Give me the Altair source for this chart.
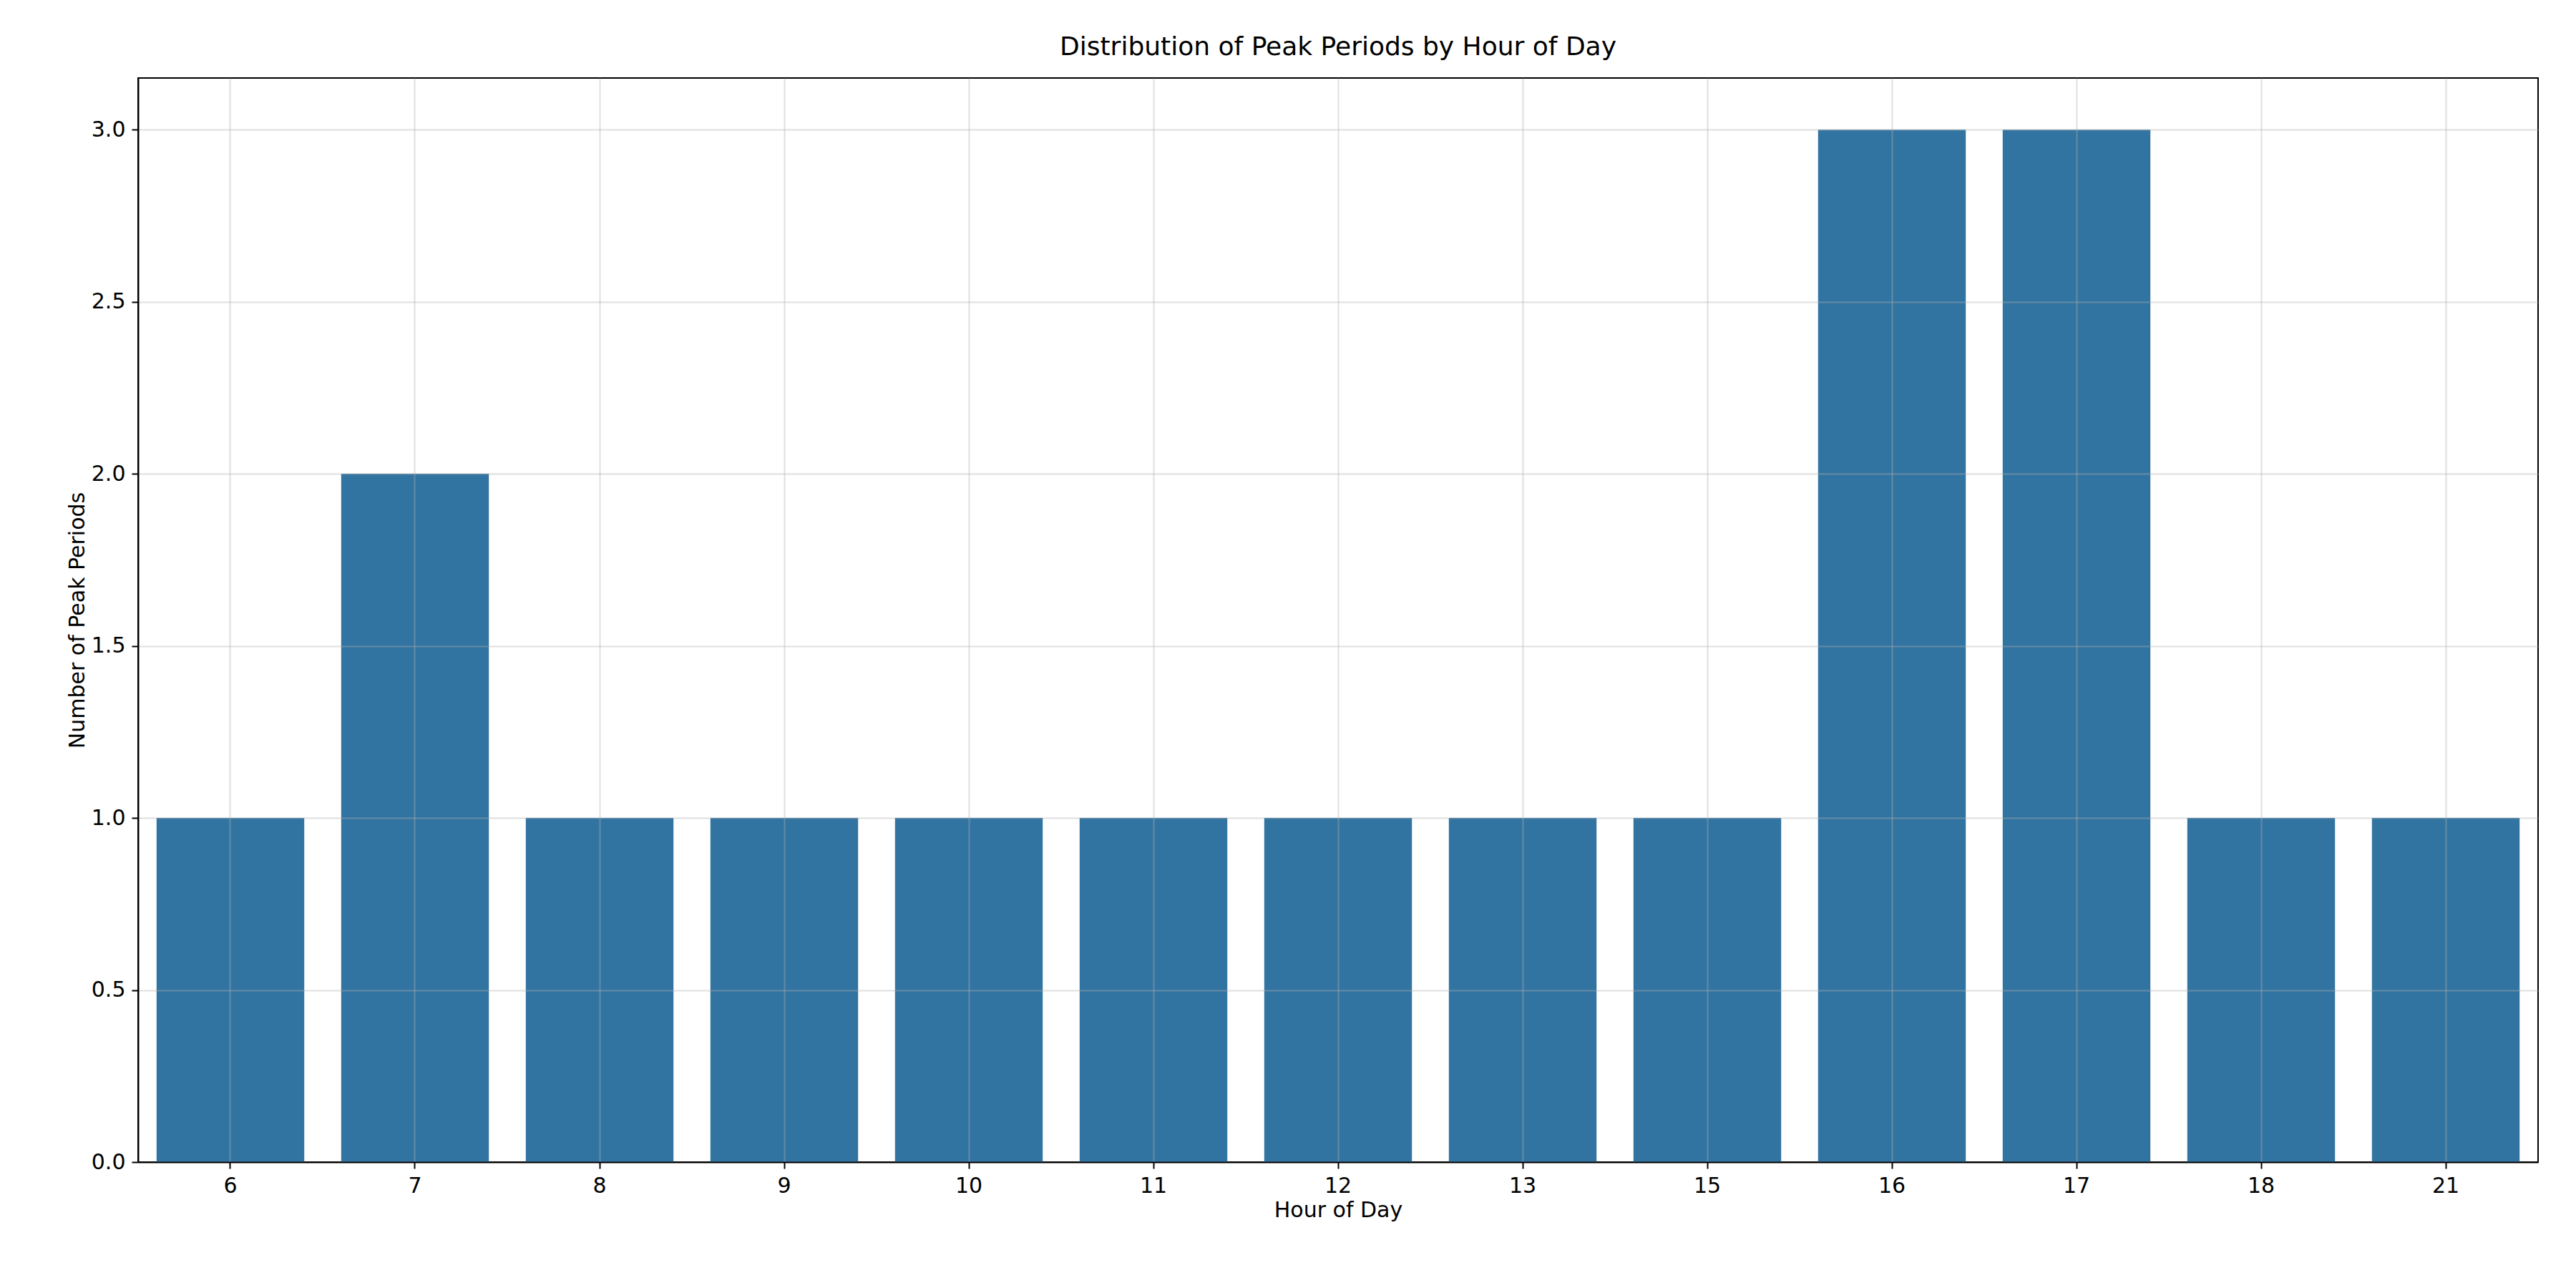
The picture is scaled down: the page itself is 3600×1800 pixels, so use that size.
import altair as alt
import pandas as pd

hours = [6, 7, 8, 9, 10, 11, 12, 13, 15, 16, 17, 18, 21]
counts = [1, 2, 1, 1, 1, 1, 1, 1, 1, 3, 3, 1, 1]

df = pd.DataFrame({'hour': hours, 'count': counts})

chart = alt.Chart(df).mark_bar(color='#3274a1').encode(
    x=alt.X('hour:O', title='Hour of Day',
            scale=alt.Scale(paddingInner=0.2, paddingOuter=0.1),
            axis=alt.Axis(labelAngle=0, grid=True, gridColor='#b0b0b0',
                          gridOpacity=0.4, gridWidth=2, zindex=1)),
    y=alt.Y('count:Q', title='Number of Peak Periods',
            scale=alt.Scale(domain=[0, 3.15], nice=False),
            axis=alt.Axis(values=[0, 0.5, 1, 1.5, 2, 2.5, 3], format='.1f',
                          grid=True, gridColor='#b0b0b0', gridOpacity=0.4,
                          gridWidth=2, zindex=1))
).properties(
    width=3354, height=1515,
    padding={"left": 85, "top": 40, "right": 5, "bottom": 5},
    title='Distribution of Peak Periods by Hour of Day'
).configure_axis(
    labelFont='DejaVu Sans', titleFont='DejaVu Sans',
    labelFontSize=30, titleFontSize=30, titleFontWeight='normal',
    labelColor='black', titleColor='black',
    domainColor='black', tickColor='black', domainWidth=2, tickWidth=2,
    tickSize=9, labelPadding=9
).configure_title(
    font='DejaVu Sans', fontSize=36, fontWeight='normal', offset=24
).configure_view(
    stroke='black', strokeWidth=2
)

chart.save("out.html", embed_options={"renderer": "svg", "actions": False})
